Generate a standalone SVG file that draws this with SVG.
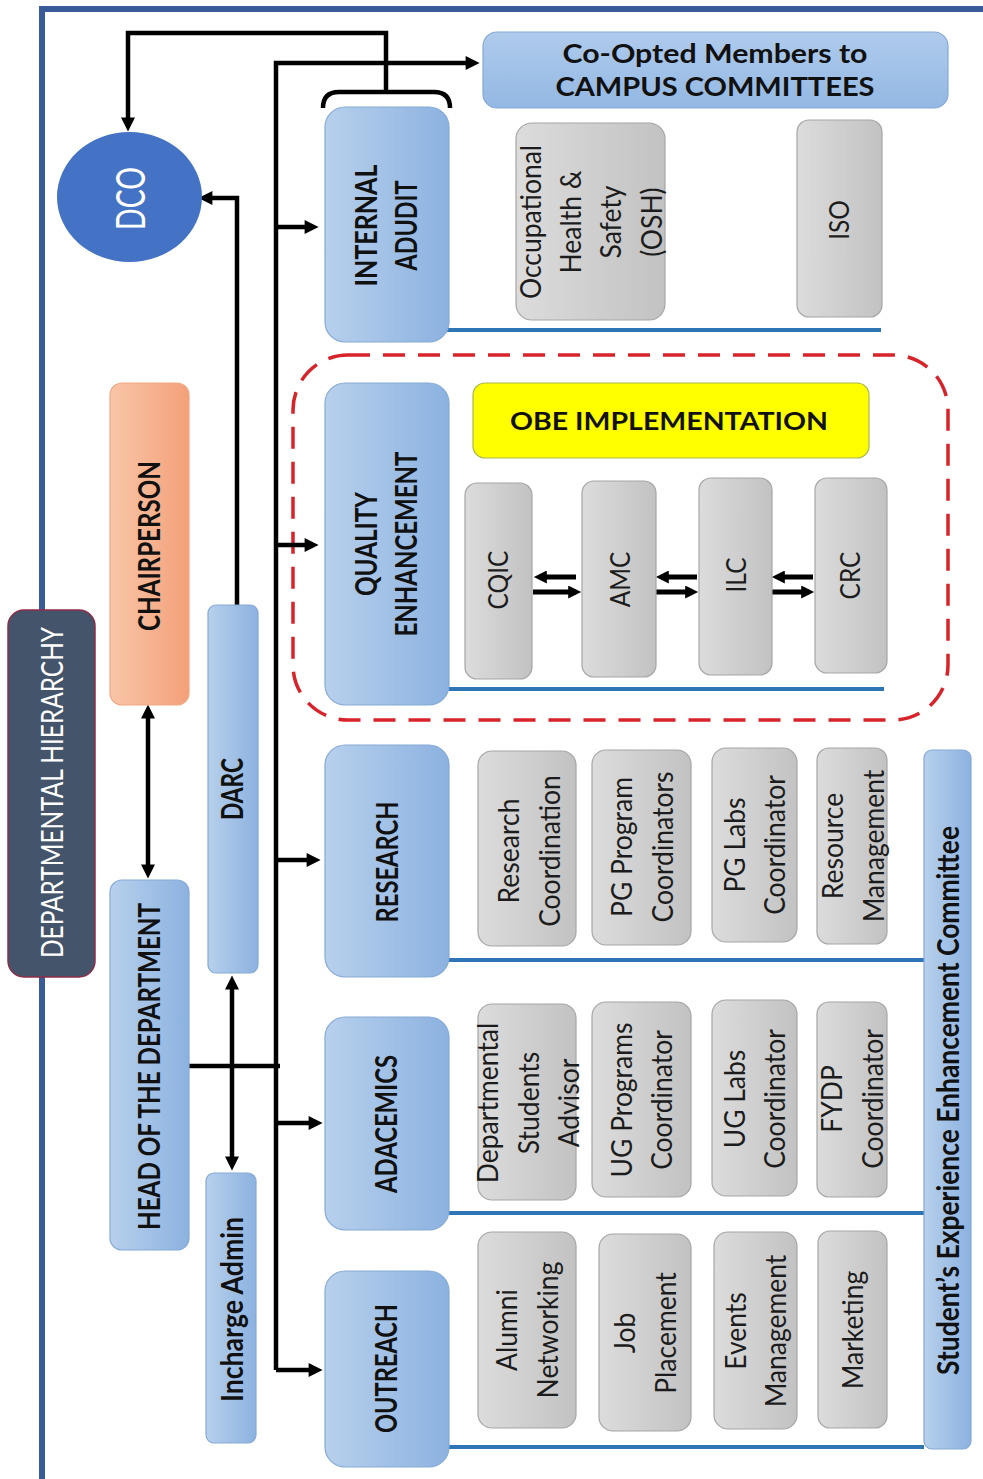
<svg xmlns="http://www.w3.org/2000/svg" width="983" height="1479" viewBox="0 0 983 1479">
<defs>
<linearGradient id="gb" x1="0" y1="0" x2="1" y2="0"><stop offset="0" stop-color="#B7D0EC"/><stop offset="1" stop-color="#8CB2E0"/></linearGradient>
<linearGradient id="gg" x1="0" y1="0" x2="1" y2="0"><stop offset="0" stop-color="#DCDCDC"/><stop offset="1" stop-color="#C2C2C2"/></linearGradient>
<linearGradient id="go" x1="0" y1="0" x2="1" y2="0"><stop offset="0" stop-color="#F8C6A8"/><stop offset="1" stop-color="#F4A079"/></linearGradient>
<linearGradient id="gc" x1="0" y1="0" x2="0" y2="1"><stop offset="0" stop-color="#AFCBEC"/><stop offset="1" stop-color="#93B8E3"/></linearGradient>
<marker id="ah" viewBox="0 0 10 10" refX="6" refY="5" markerWidth="16" markerHeight="14" markerUnits="userSpaceOnUse" orient="auto-start-reverse"><path d="M0,0 L10,5 L0,10 z" fill="#000"/></marker>
<marker id="ah2" viewBox="0 0 10 10" refX="6" refY="5" markerWidth="14" markerHeight="13" markerUnits="userSpaceOnUse" orient="auto-start-reverse"><path d="M0,0 L10,5 L0,10 z" fill="#000"/></marker>
</defs>
<style>
.nb{fill:url(#gb);stroke:#86A9D6;stroke-width:1.2}
.ng{fill:url(#gg);stroke:#A6A6A6;stroke-width:1.2}
.conn{stroke:#000;stroke-width:4.5;fill:none}
.obe{stroke:#000;stroke-width:5;fill:none}
.bl{stroke:#2E75B6;stroke-width:4;fill:none}
.tx{font-family:Lato,"Liberation Sans",sans-serif;fill:#111}
.bt{font-weight:700;font-size:27px}
.gt{font-size:26.5px;fill:#1c1c1c}
.cp{font-size:24.5px;fill:#1c1c1c}
</style>
<rect width="983" height="1479" fill="#fff"/>
<path d="M42,1479 V9 H983" fill="none" stroke="#3A5B9A" stroke-width="6"/>

<g id="blue-lines">
<path class="bl" d="M447,330 H881"/>
<path class="bl" d="M447,689 H884"/>
<path class="bl" d="M447,960 H924"/>
<path class="bl" d="M447,1213 H924"/>
<path class="bl" d="M447,1447 H924"/>
</g>

<g id="obe-group">
<rect x="293" y="355" width="655" height="365" rx="55" fill="none" stroke="#D7232A" stroke-width="3.5" stroke-dasharray="22,13"/>
</g>

<g id="connectors">
<path class="conn" d="M323,108 Q323,92 339,92 H434 Q450,92 450,108"/>
<path class="conn" d="M386,92 V33 H128 V126" marker-end="url(#ah)"/>
<path class="conn" d="M276,1370 V63 H474" marker-end="url(#ah)"/>
<path class="conn" d="M276,227 H313" marker-end="url(#ah)"/>
<path class="conn" d="M276,545 H313" marker-end="url(#ah)"/>
<path class="conn" d="M276,860 H315" marker-end="url(#ah)"/>
<path class="conn" d="M276,1123 H317" marker-end="url(#ah)"/>
<path class="conn" d="M276,1370 H317" marker-end="url(#ah)"/>
<path class="conn" d="M189,1066 H280"/>
<path class="conn" d="M237,605 V198 H204" marker-end="url(#ah)"/>
<path class="conn" d="M148,710 V873" marker-start="url(#ah)" marker-end="url(#ah)"/>
<path class="conn" d="M232,981 V1165" marker-start="url(#ah)" marker-end="url(#ah)"/>
<path class="obe" d="M576,577 H539" marker-end="url(#ah2)"/>
<path class="obe" d="M697,577 H661" marker-end="url(#ah2)"/>
<path class="obe" d="M813,577 H777" marker-end="url(#ah2)"/>
<path class="obe" d="M533,592 H576" marker-end="url(#ah2)"/>
<path class="obe" d="M656,592 H693" marker-end="url(#ah2)"/>
<path class="obe" d="M772,592 H809" marker-end="url(#ah2)"/>
</g>

<g id="dept-hierarchy">
<rect x="8" y="610" width="87" height="367" rx="16" fill="#44546A" stroke="#8E2C48" stroke-width="1.5"/>
<g transform="translate(51.5,792.5) scale(1.12,1) rotate(-90)"><text class="tx" x="0" y="10" text-anchor="middle" font-size="28" style="fill:#fff" textLength="331" lengthAdjust="spacingAndGlyphs">DEPARTMENTAL HIERARCHY</text></g>
</g>

<g id="dco">
<ellipse cx="129.5" cy="197" rx="72.5" ry="65" fill="#4472C4"/>
<g transform="translate(130,198.5) scale(1.12,1) rotate(-90)"><text class="tx" x="0" y="13.3" text-anchor="middle" font-size="37" style="fill:#fff" textLength="63" lengthAdjust="spacingAndGlyphs">DCO</text></g>
</g>

<g id="co-opted">
<rect x="483" y="32" width="465" height="76" rx="14" fill="url(#gc)" stroke="#86A9D6" stroke-width="1.2"/>
<text class="tx" x="715" y="63" text-anchor="middle" font-weight="700" font-size="26" textLength="305" lengthAdjust="spacingAndGlyphs">Co-Opted Members to</text>
<text class="tx" x="715" y="96" text-anchor="middle" font-weight="700" font-size="26" textLength="319" lengthAdjust="spacingAndGlyphs">CAMPUS COMMITTEES</text>
</g>

<g id="chairperson">
<rect x="110" y="383" width="79" height="322" rx="12" fill="url(#go)" stroke="#EFA884" stroke-width="1.2"/>
<g transform="translate(149,546) scale(1.12,1) rotate(-90)"><text class="tx bt" x="0" y="9.7" text-anchor="middle" textLength="170" lengthAdjust="spacingAndGlyphs">CHAIRPERSON</text></g>
</g>

<g id="darc">
<rect class="nb" x="208" y="605" width="50" height="368" rx="8"/>
<g transform="translate(232.5,789) scale(1.12,1) rotate(-90)"><text class="tx bt" x="0" y="9.7" text-anchor="middle" textLength="62" lengthAdjust="spacingAndGlyphs">DARC</text></g>
</g>

<g id="hod">
<rect class="nb" x="110" y="880" width="79" height="370" rx="12"/>
<g transform="translate(149,1066.5) scale(1.12,1) rotate(-90)"><text class="tx bt" x="0" y="9.7" text-anchor="middle" textLength="327" lengthAdjust="spacingAndGlyphs">HEAD OF THE DEPARTMENT</text></g>
</g>

<g id="incharge-admin">
<rect class="nb" x="206" y="1173" width="50" height="270" rx="8"/>
<g transform="translate(232.5,1309.5) scale(1.12,1) rotate(-90)"><text class="tx bt" x="0" y="9.7" text-anchor="middle" textLength="185" lengthAdjust="spacingAndGlyphs">Incharge Admin</text></g>
</g>

<g id="internal-audit">
<rect class="nb" x="325" y="107" width="124" height="235" rx="20"/>
<g transform="translate(386.5,225.5) scale(1.12,1) rotate(-90)">
<text class="tx bt" x="0" y="-8.3" text-anchor="middle" textLength="122" lengthAdjust="spacingAndGlyphs">INTERNAL</text>
<text class="tx bt" x="0" y="27.4" text-anchor="middle" textLength="90" lengthAdjust="spacingAndGlyphs">ADUDIT</text>
</g>
</g>

<g id="osh">
<rect class="ng" x="516" y="123" width="149" height="197" rx="16"/>
<g transform="translate(590.5,222) scale(1.12,1) rotate(-90)">
<text class="tx gt" x="0" y="-44.5" text-anchor="middle">Occupational</text>
<text class="tx gt" x="0" y="-8.5" text-anchor="middle">Health &amp;</text>
<text class="tx gt" x="0" y="27.5" text-anchor="middle">Safety</text>
<text class="tx gt" x="0" y="63.5" text-anchor="middle">(OSH)</text>
</g>
</g>

<g id="iso">
<rect class="ng" x="797" y="120" width="85" height="197" rx="12"/>
<g transform="translate(839,220) scale(1.12,1) rotate(-90)"><text class="tx cp" x="0" y="8.8" text-anchor="middle">ISO</text></g>
</g>

<g id="quality-enhancement">
<rect class="nb" x="325" y="383" width="124" height="322" rx="20"/>
<g transform="translate(386,544) scale(1.12,1) rotate(-90)">
<text class="tx bt" x="0" y="-8.3" text-anchor="middle" textLength="104" lengthAdjust="spacingAndGlyphs">QUALITY</text>
<text class="tx bt" x="0" y="27.4" text-anchor="middle" textLength="185" lengthAdjust="spacingAndGlyphs">ENHANCEMENT</text>
</g>
</g>

<g id="obe-implementation">
<rect x="473" y="383" width="396" height="75" rx="12" fill="#FFFF00" stroke="#A9B84E" stroke-width="1.2"/>
<text class="tx" x="669" y="430" text-anchor="middle" font-weight="700" font-size="25" textLength="318" lengthAdjust="spacingAndGlyphs">OBE IMPLEMENTATION</text>
</g>

<g id="cqic">
<rect class="ng" x="465" y="483" width="67" height="196" rx="12"/>
<g transform="translate(498,580) scale(1.12,1) rotate(-90)"><text class="tx cp" x="0" y="8.8" text-anchor="middle">CQIC</text></g>
</g>
<g id="amc">
<rect class="ng" x="582" y="481" width="74" height="196" rx="12"/>
<g transform="translate(620,579.5) scale(1.12,1) rotate(-90)"><text class="tx cp" x="0" y="8.8" text-anchor="middle">AMC</text></g>
</g>
<g id="ilc">
<rect class="ng" x="699" y="478" width="73" height="197" rx="12"/>
<g transform="translate(736,575) scale(1.12,1) rotate(-90)"><text class="tx cp" x="0" y="8.8" text-anchor="middle">ILC</text></g>
</g>
<g id="crc">
<rect class="ng" x="815" y="478" width="72" height="195" rx="12"/>
<g transform="translate(850,575.5) scale(1.12,1) rotate(-90)"><text class="tx cp" x="0" y="8.8" text-anchor="middle">CRC</text></g>
</g>

<g id="research">
<rect class="nb" x="325" y="745" width="124" height="232" rx="20"/>
<g transform="translate(387,862) scale(1.12,1) rotate(-90)"><text class="tx bt" x="0" y="9.7" text-anchor="middle" textLength="121" lengthAdjust="spacingAndGlyphs">RESEARCH</text></g>
</g>
<g id="research-coordination">
<rect class="ng" x="478" y="751" width="98" height="195" rx="14"/>
<g transform="translate(529,851) scale(1.12,1) rotate(-90)">
<text class="tx gt" x="0" y="-8.5" text-anchor="middle">Research</text>
<text class="tx gt" x="0" y="27.5" text-anchor="middle">Coordination</text>
</g>
</g>
<g id="pg-program">
<rect class="ng" x="592" y="750" width="99" height="195" rx="14"/>
<g transform="translate(642,847) scale(1.12,1) rotate(-90)">
<text class="tx gt" x="0" y="-8.5" text-anchor="middle">PG Program</text>
<text class="tx gt" x="0" y="27.5" text-anchor="middle">Coordinators</text>
</g>
</g>
<g id="pg-labs">
<rect class="ng" x="712" y="748" width="85" height="194" rx="14"/>
<g transform="translate(754.5,845) scale(1.12,1) rotate(-90)">
<text class="tx gt" x="0" y="-8.5" text-anchor="middle">PG Labs</text>
<text class="tx gt" x="0" y="27.5" text-anchor="middle">Coordinator</text>
</g>
</g>
<g id="resource-management">
<rect class="ng" x="817" y="748" width="70" height="196" rx="12"/>
<g transform="translate(853,846) scale(1.12,1) rotate(-90)">
<text class="tx gt" x="0" y="-8.5" text-anchor="middle">Resource</text>
<text class="tx gt" x="0" y="27.5" text-anchor="middle">Management</text>
</g>
</g>

<g id="academics">
<rect class="nb" x="325" y="1017" width="124" height="213" rx="20"/>
<g transform="translate(386.5,1124) scale(1.12,1) rotate(-90)"><text class="tx bt" x="0" y="9.7" text-anchor="middle" textLength="138" lengthAdjust="spacingAndGlyphs">ADACEMICS</text></g>
</g>
<g id="students-advisor">
<rect class="ng" x="478" y="1004" width="98" height="196" rx="14"/>
<g transform="translate(528,1103) scale(1.12,1) rotate(-90)">
<text class="tx gt" x="0" y="-26.5" text-anchor="middle">Departmental</text>
<text class="tx gt" x="0" y="9.5" text-anchor="middle">Students</text>
<text class="tx gt" x="0" y="45.5" text-anchor="middle">Advisor</text>
</g>
</g>
<g id="ug-programs">
<rect class="ng" x="592" y="1002" width="99" height="195" rx="14"/>
<g transform="translate(641.5,1100) scale(1.12,1) rotate(-90)">
<text class="tx gt" x="0" y="-8.5" text-anchor="middle">UG Programs</text>
<text class="tx gt" x="0" y="27.5" text-anchor="middle">Coordinator</text>
</g>
</g>
<g id="ug-labs">
<rect class="ng" x="712" y="1000" width="85" height="196" rx="14"/>
<g transform="translate(754.5,1099) scale(1.12,1) rotate(-90)">
<text class="tx gt" x="0" y="-8.5" text-anchor="middle">UG Labs</text>
<text class="tx gt" x="0" y="27.5" text-anchor="middle">Coordinator</text>
</g>
</g>
<g id="fydp">
<rect class="ng" x="817" y="1002" width="70" height="195" rx="12"/>
<g transform="translate(852,1099) scale(1.12,1) rotate(-90)">
<text class="tx gt" x="0" y="-8.5" text-anchor="middle">FYDP</text>
<text class="tx gt" x="0" y="27.5" text-anchor="middle">Coordinator</text>
</g>
</g>

<g id="outreach">
<rect class="nb" x="325" y="1271" width="124" height="196" rx="20"/>
<g transform="translate(386.5,1368.5) scale(1.12,1) rotate(-90)"><text class="tx bt" x="0" y="9.7" text-anchor="middle" textLength="129" lengthAdjust="spacingAndGlyphs">OUTREACH</text></g>
</g>
<g id="alumni">
<rect class="ng" x="478" y="1232" width="98" height="196" rx="14"/>
<g transform="translate(527,1330) scale(1.12,1) rotate(-90)">
<text class="tx gt" x="0" y="-8.5" text-anchor="middle">Alumni</text>
<text class="tx gt" x="0" y="27.5" text-anchor="middle">Networking</text>
</g>
</g>
<g id="job-placement">
<rect class="ng" x="599" y="1234" width="92" height="197" rx="14"/>
<g transform="translate(645,1333) scale(1.12,1) rotate(-90)">
<text class="tx gt" x="0" y="-8.5" text-anchor="middle">Job</text>
<text class="tx gt" x="0" y="27.5" text-anchor="middle">Placement</text>
</g>
</g>
<g id="events">
<rect class="ng" x="714" y="1232" width="83" height="197" rx="14"/>
<g transform="translate(755.5,1331) scale(1.12,1) rotate(-90)">
<text class="tx gt" x="0" y="-8.5" text-anchor="middle">Events</text>
<text class="tx gt" x="0" y="27.5" text-anchor="middle">Management</text>
</g>
</g>
<g id="marketing">
<rect class="ng" x="818" y="1231" width="69" height="197" rx="12"/>
<g transform="translate(852.5,1330) scale(1.12,1) rotate(-90)"><text class="tx gt" x="0" y="9.5" text-anchor="middle">Marketing</text></g>
</g>

<g id="seec">
<rect class="nb" x="924" y="750" width="47" height="699" rx="8"/>
<g transform="translate(948,1100.5) scale(1.12,1) rotate(-90)"><text class="tx bt" x="0" y="9.7" text-anchor="middle" textLength="549" lengthAdjust="spacingAndGlyphs">Student’s Experience Enhancement Committee</text></g>
</g>
</svg>
